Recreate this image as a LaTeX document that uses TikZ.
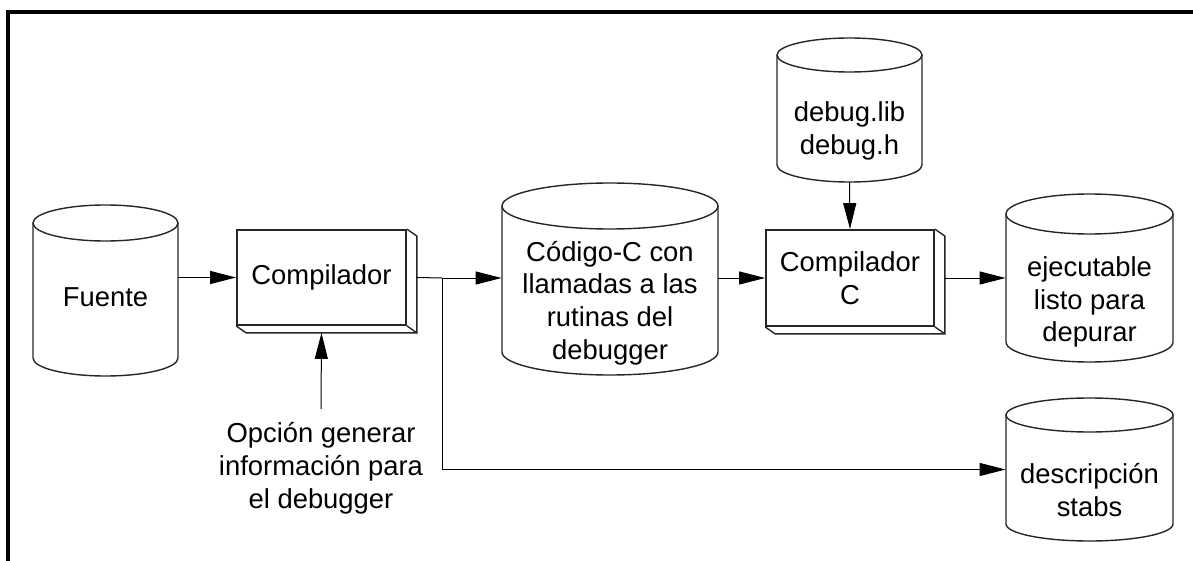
\documentclass[tikz,border=0pt]{standalone}
\usepackage{fontspec}
\setmainfont{Liberation Sans}
\usetikzlibrary{arrows.meta}

% cylinder: name, centre x, top y, bottom y, half width, ellipse radius, text y, text
\newcommand{\cilindro}[8]{%
  \node[minimum width=#5pt,minimum height={(#4-#3)*0.5pt},inner sep=0pt] (#1) at (#2,{(#3+#4)/2}) {};
  \draw[borde] (#2-#5,#3+#6) -- (#2-#5,#4-#6)
    arc[start angle=180,end angle=0,x radius=#5,y radius=#6] -- (#2+#5,#3+#6);
  \draw[borde] (#2,#3+#6) ellipse[x radius=#5,y radius=#6];
  \node[align=center] (#1-t) at (#2,#7) {#8};
}
% raised edge on the right and bottom of a box
\newcommand{\relieve}[1]{%
  \draw[borde] (#1.north east) -- ++(10,7) |- ([shift={(10,7)}]#1.south west) -- (#1.south west);
  \draw[borde] (#1.south east) -- ++(10,7);
}

\begin{document}
\begin{tikzpicture}[x=0.5pt,y=-0.5pt,
  font=\fontsize{13.7}{16.4}\selectfont,
  borde/.style={line width=0.7pt,draw=black!85},
  caja/.style={draw=black!85,line width=0.9pt,minimum width=84.5pt,minimum height=47.5pt,inner sep=0pt,align=center},
  flecha/.style={line width=0.5pt,-{Triangle[length=13pt,width=6.5pt]}}]
  \useasboundingbox (0,0) rectangle (1193,561);
  \draw[line width=2pt] (8,561) -- (8,12) -- (1193,12);

  \cilindro{fuente}{105.5}{205}{376}{72.5}{18}{297}{Fuente}
  \node[caja] (compa) at (321.5,277.5) {Compilador};
  \relieve{compa}
  \node[align=center] (opcion) at (321,468) {Opción generar\\información para\\el debugger};
  \cilindro{codigo}{610}{183}{375}{108}{23}{303}{Código-C con\\llamadas a las\\rutinas del\\debugger}
  \cilindro{debug}{849.5}{38}{182}{72.5}{17}{131}{debug.lib\\debug.h}
  \node[caja,minimum width=84pt,minimum height=48pt] (compc) at (850,278) {Compilador\\C};
  \relieve{compc}
  \cilindro{ejec}{1089.5}{194}{362}{83.5}{20}{302}{ejecutable\\listo para\\depurar}
  \cilindro{stabs}{1089.5}{398}{541}{83.5}{17}{490}{descripción\\stabs}

  \coordinate (rama) at (442,278);
  \draw[flecha] (fuente.east |- compa.west) -- (compa.west);
  \draw[line width=0.5pt] ([xshift=5pt]compa.east) -- (rama);
  \draw[flecha] (rama) -- (codigo.west |- rama);
  \draw[flecha] (rama) |- (stabs.west);
  \draw[flecha] ([yshift=3pt]opcion.north) -- ([yshift=-3.5pt]compa.south);
  \draw[flecha] (codigo.east |- compc.west) -- (compc.west);
  \draw[flecha] (debug.south) -- (compc.north);
  \draw[flecha] ([xshift=5pt]compc.east) -- (ejec.west |- compc.east);
\end{tikzpicture}
\end{document}
